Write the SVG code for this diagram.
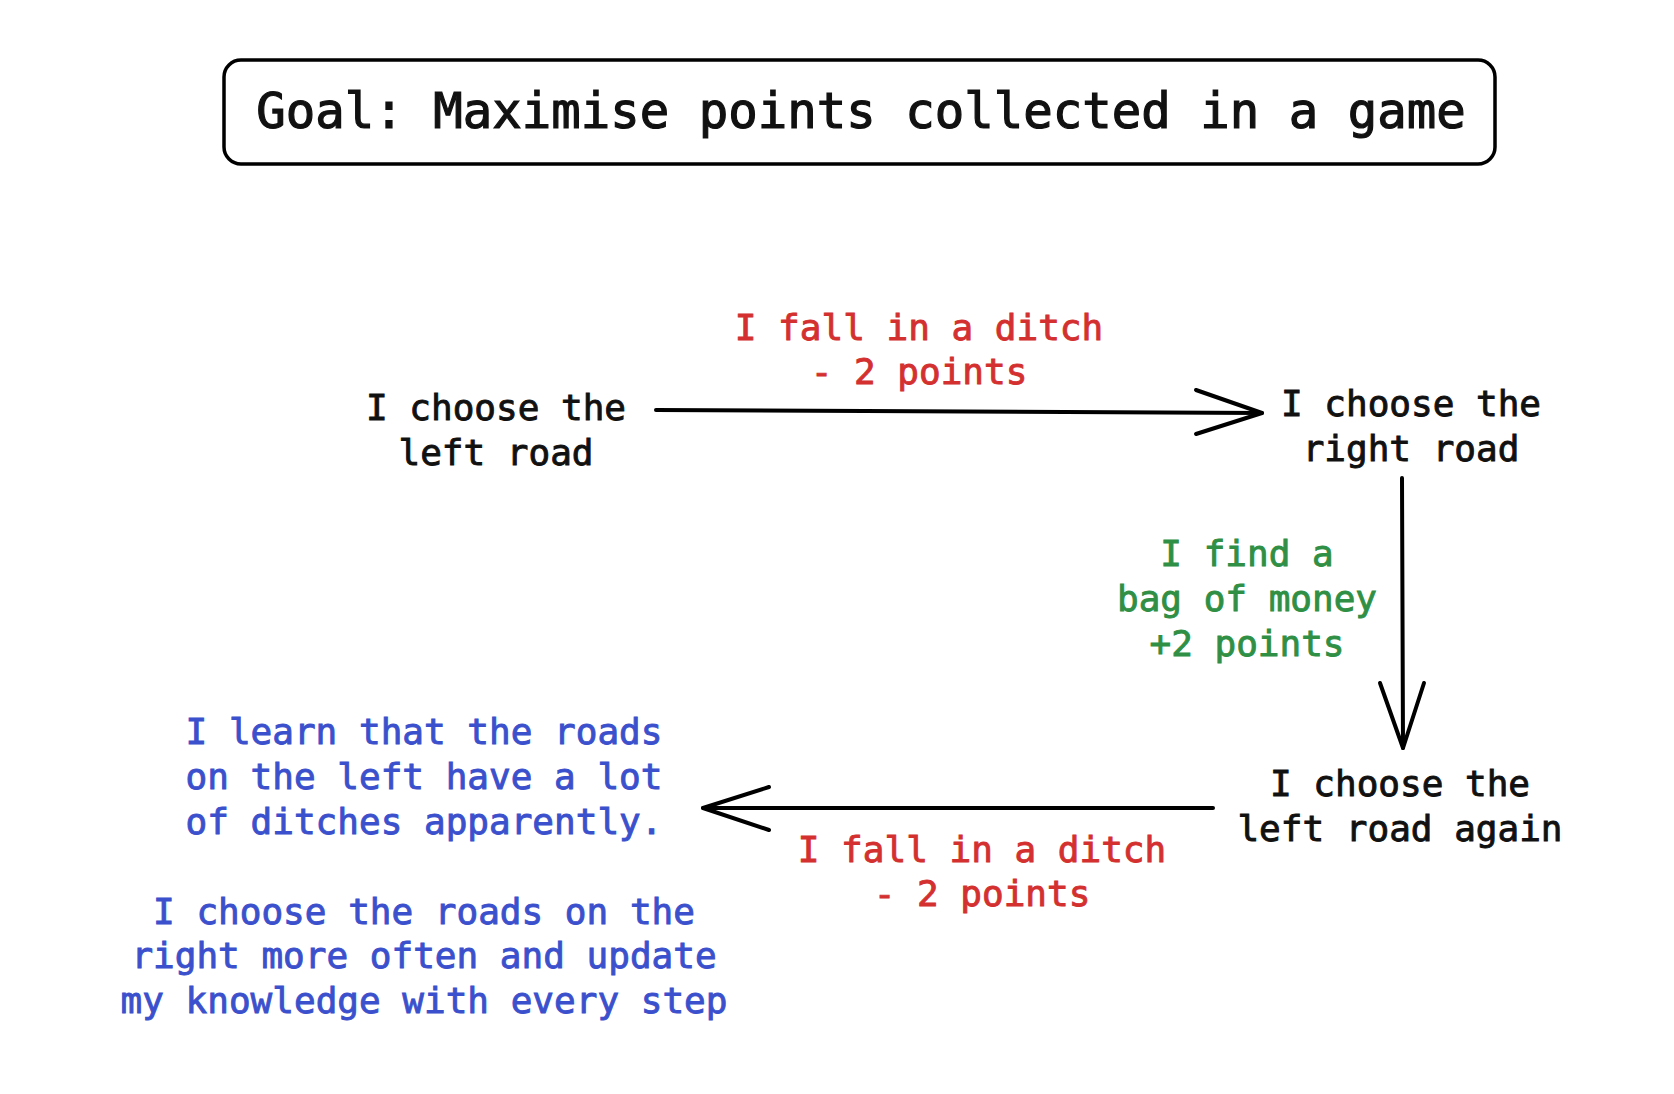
<svg xmlns="http://www.w3.org/2000/svg" width="1674" height="1094" viewBox="0 0 1674 1094">
<style>
text{font-family:"DejaVu Sans Mono","Liberation Mono",monospace;font-size:36px;text-anchor:middle;stroke-width:0.9px}
.k{fill:#111;stroke:#111}
.r{fill:#d3302f;stroke:#d3302f}
.g{fill:#2f8f44;stroke:#2f8f44}
.b{fill:#3b50cc;stroke:#3b50cc}
.t{font-size:49px;stroke-width:1.2px}
.c{fill:none;stroke:#000;stroke-width:4;stroke-linecap:round;stroke-linejoin:round}
</style>
<rect width="1674" height="1094" fill="#fff"/>
<g id="goal">
<rect x="224" y="60" width="1271" height="104" rx="17" fill="none" stroke="#000" stroke-width="3.5"/>
<text class="k t" x="861" y="128">Goal: Maximise points collected in a game</text>
</g>
<g id="left-road">
<text class="k" x="496" y="420">I choose the</text>
<text class="k" x="496" y="465">left road</text>
</g>
<g id="right-road">
<text class="k" x="1411" y="416">I choose the</text>
<text class="k" x="1411" y="461">right road</text>
</g>
<g id="left-again">
<text class="k" x="1400" y="796">I choose the</text>
<text class="k" x="1400" y="841">left road again</text>
</g>
<g id="learn">
<text class="b" x="424" y="744">I learn that the roads</text>
<text class="b" x="424" y="789">on the left have a lot</text>
<text class="b" x="424" y="834">of ditches apparently.</text>
<text class="b" x="424" y="924">I choose the roads on the</text>
<text class="b" x="424" y="968">right more often and update</text>
<text class="b" x="424" y="1013">my knowledge with every step</text>
</g>
<g id="connectors">
<path class="c" d="M656 410 L1262 413"/>
<path class="c" d="M1196 390 L1262 413 L1196 434"/>
<text class="r" x="919" y="340">I fall in a ditch</text>
<text class="r" x="919" y="384">- 2 points</text>
<path class="c" d="M1402 478 L1403 748"/>
<path class="c" d="M1380 683 L1403 748 L1424 683"/>
<text class="g" x="1247" y="566">I find a</text>
<text class="g" x="1247" y="611">bag of money</text>
<text class="g" x="1247" y="656">+2 points</text>
<path class="c" d="M1213 808 L703 808"/>
<path class="c" d="M769 787 L703 808 L769 830"/>
<text class="r" x="982" y="862">I fall in a ditch</text>
<text class="r" x="982" y="906">- 2 points</text>
</g>
</svg>
